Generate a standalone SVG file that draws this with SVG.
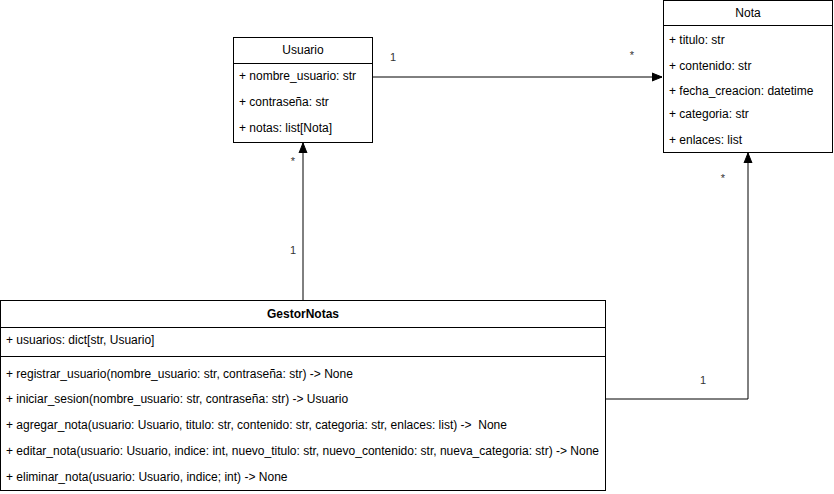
<svg xmlns="http://www.w3.org/2000/svg" width="834" height="494" viewBox="0 0 834 494">
<defs>
<style>
.box{fill:#fff;stroke:#000;stroke-width:1}
.t{font-family:"Liberation Sans",Arial,sans-serif;font-size:12px;fill:#000}
.c{text-anchor:middle}
.title{font-weight:bold}
.edge{fill:none;stroke:#000;stroke-width:1}
.lbl{font-family:"Liberation Sans",Arial,sans-serif;font-size:11px;fill:#333}
</style>
<marker id="arr" markerWidth="10" markerHeight="10" viewBox="0 0 10 10" refX="10" refY="5" orient="auto" markerUnits="userSpaceOnUse">
<path d="M0,1 L10,5 L0,9 Z" fill="#000" stroke="#000"/>
</marker>
</defs>
<rect width="834" height="494" fill="#fff"/>
<g id="connectors">
<path class="edge" d="M373,77 L662,77" marker-end="url(#arr)"/>
<path class="edge" d="M303,300 L303,143" marker-end="url(#arr)"/>
<path class="edge" d="M606,399 L748,399 L748,153" marker-end="url(#arr)"/>
<text class="lbl c" x="393" y="61">1</text>
<text class="lbl c" x="632" y="59">*</text>
<text class="lbl c" x="293" y="165">*</text>
<text class="lbl c" x="293" y="254">1</text>
<text class="lbl c" x="723" y="182">*</text>
<text class="lbl c" x="703" y="384">1</text>
</g>
<g id="Usuario">
<rect class="box" x="233.5" y="37.5" width="139" height="105"/>
<line class="edge" x1="233.5" y1="63.5" x2="372.5" y2="63.5"/>
<text class="t c" x="303" y="54">Usuario</text>
<text class="t" x="239" y="80">+ nombre_usuario: str</text>
<text class="t" x="239" y="106">+ contraseña: str</text>
<text class="t" x="239" y="132">+ notas: list[Nota]</text>
</g>
<g id="Nota">
<rect class="box" x="663.5" y="0.5" width="169" height="152"/>
<line class="edge" x1="663.5" y1="25.5" x2="832.5" y2="25.5"/>
<text class="t c" x="748" y="17">Nota</text>
<text class="t" x="669" y="44">+ titulo: str</text>
<text class="t" x="669" y="70">+ contenido: str</text>
<text class="t" x="669" y="95">+ fecha_creacion: datetime</text>
<text class="t" x="669" y="118">+ categoria: str</text>
<text class="t" x="669" y="144">+ enlaces: list</text>
</g>
<g id="GestorNotas">
<rect class="box" x="0.5" y="300.5" width="605" height="190"/>
<line class="edge" x1="0.5" y1="327.5" x2="605.5" y2="327.5"/>
<line class="edge" x1="0.5" y1="356.5" x2="605.5" y2="356.5"/>
<text class="t c title" x="303" y="318">GestorNotas</text>
<text class="t" x="6" y="344">+ usuarios: dict[str, Usuario]</text>
<text class="t" x="6" y="378">+ registrar_usuario(nombre_usuario: str, contraseña: str) -&gt; None</text>
<text class="t" x="6" y="403">+ iniciar_sesion(nombre_usuario: str, contraseña: str) -&gt; Usuario</text>
<text class="t" x="6" y="429" xml:space="preserve">+ agregar_nota(usuario: Usuario, titulo: str, contenido: str, categoria: str, enlaces: list) -&gt;  None</text>
<text class="t" x="6" y="455">+ editar_nota(usuario: Usuario, indice: int, nuevo_titulo: str, nuevo_contenido: str, nueva_categoria: str) -&gt; None</text>
<text class="t" x="6" y="481">+ eliminar_nota(usuario: Usuario, indice; int) -&gt; None</text>
</g>
</svg>
